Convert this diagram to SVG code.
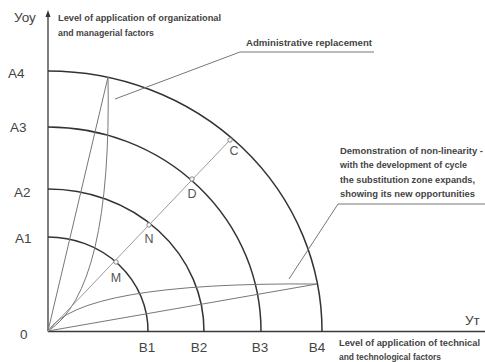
<svg xmlns="http://www.w3.org/2000/svg" width="485" height="362" viewBox="0 0 485 362">
<style>
.ax{stroke:#3a3a3a;stroke-width:1.3;fill:none}
.arc{stroke:#333;stroke-width:1.5;fill:none}
.ln{stroke:#777;stroke-width:1;fill:none}
.ray{stroke:#9a9a9a;stroke-width:1;fill:none}
.pt{fill:#fff;stroke:#777;stroke-width:0.9}
.lbl{font-family:"Liberation Sans",Arial,sans-serif;font-size:13.5px;fill:#444}
.sm{font-family:"Liberation Sans",Arial,sans-serif;font-size:9px;font-weight:bold;fill:#444}
.pl{font-family:"Liberation Sans",Arial,sans-serif;font-size:12.5px;fill:#555}
</style>
<rect width="485" height="362" fill="#fff"/>
<g id="axes">
<line class="ax" x1="48" y1="331.5" x2="48" y2="13"/>
<path d="M45.5,17 L48,10 L50.5,17 Z" fill="#333"/>
<line class="ax" x1="48" y1="331.5" x2="485" y2="331.5"/>
</g>
<g id="arcs">
<path id="arc1" class="arc" d="M48,237 A100,94 0 0 1 148,331.5"/>
<path id="arc2" class="arc" d="M48,189 A156,142 0 0 1 204,331.5"/>
<path id="arc3" class="arc" d="M48,127 A213,204 0 0 1 261,331.5"/>
<path id="arc4" class="arc" d="M48,71 A274,260 0 0 1 322,331.5"/>
</g>
<g id="connectors">
<line class="ln" x1="48" y1="331" x2="108" y2="77"/>
<path class="ln" d="M48,331 Q112,290 108,77"/>
<line class="ln" x1="48" y1="331" x2="317" y2="284"/>
<path class="ln" d="M48,331 Q80,282 317,284"/>
<line class="ray" x1="48" y1="331" x2="230" y2="140"/>
<polyline class="ln" points="115,99 240,52 374,52"/>
<polyline class="ln" points="289,279 338,204 485,204"/>
</g>
<g id="points">
<circle class="pt" cx="116" cy="262" r="2.2"/>
<circle class="pt" cx="149" cy="225" r="2.2"/>
<circle class="pt" cx="192" cy="179" r="2.2"/>
<circle class="pt" cx="230" cy="140" r="2.2"/>
<text class="pl" x="116" y="282" text-anchor="middle">M</text>
<text class="pl" x="149" y="243" text-anchor="middle">N</text>
<text class="pl" x="192" y="198" text-anchor="middle">D</text>
<text class="pl" x="234" y="155" text-anchor="middle">C</text>
</g>
<g id="ylabels">
<text class="lbl" x="14" y="22">Уоу</text>
<text class="lbl" x="8" y="78">A4</text>
<text class="lbl" x="10" y="132">A3</text>
<text class="lbl" x="14" y="197">A2</text>
<text class="lbl" x="15" y="243">A1</text>
<text class="lbl" x="20" y="339">0</text>
</g>
<g id="xlabels">
<text class="lbl" x="147" y="352" text-anchor="middle">B1</text>
<text class="lbl" x="199" y="352" text-anchor="middle">B2</text>
<text class="lbl" x="260" y="352" text-anchor="middle">B3</text>
<text class="lbl" x="317" y="352" text-anchor="middle">B4</text>
<text class="lbl" x="465" y="325">Ут</text>
</g>
<g id="ytitle">
<text class="sm" x="58" y="21" textLength="163" lengthAdjust="spacingAndGlyphs">Level of application of organizational</text>
<text class="sm" x="58" y="36" textLength="96" lengthAdjust="spacingAndGlyphs">and managerial factors</text>
</g>
<g id="xtitle">
<text class="sm" x="339" y="346" textLength="141" lengthAdjust="spacingAndGlyphs">Level of application of technical</text>
<text class="sm" x="339" y="360" textLength="102" lengthAdjust="spacingAndGlyphs">and technological factors</text>
</g>
<g id="note-admin">
<text class="sm" x="246" y="46" textLength="126" lengthAdjust="spacingAndGlyphs">Administrative replacement</text>
</g>
<g id="note-nonlinear">
<text class="sm" x="340" y="154" textLength="143" lengthAdjust="spacingAndGlyphs">Demonstration of non-linearity -</text>
<text class="sm" x="340" y="168" textLength="127" lengthAdjust="spacingAndGlyphs">with the development of cycle</text>
<text class="sm" x="340" y="183" textLength="135" lengthAdjust="spacingAndGlyphs">the substitution zone expands,</text>
<text class="sm" x="340" y="197" textLength="135" lengthAdjust="spacingAndGlyphs">showing its new opportunities</text>
</g>
</svg>
